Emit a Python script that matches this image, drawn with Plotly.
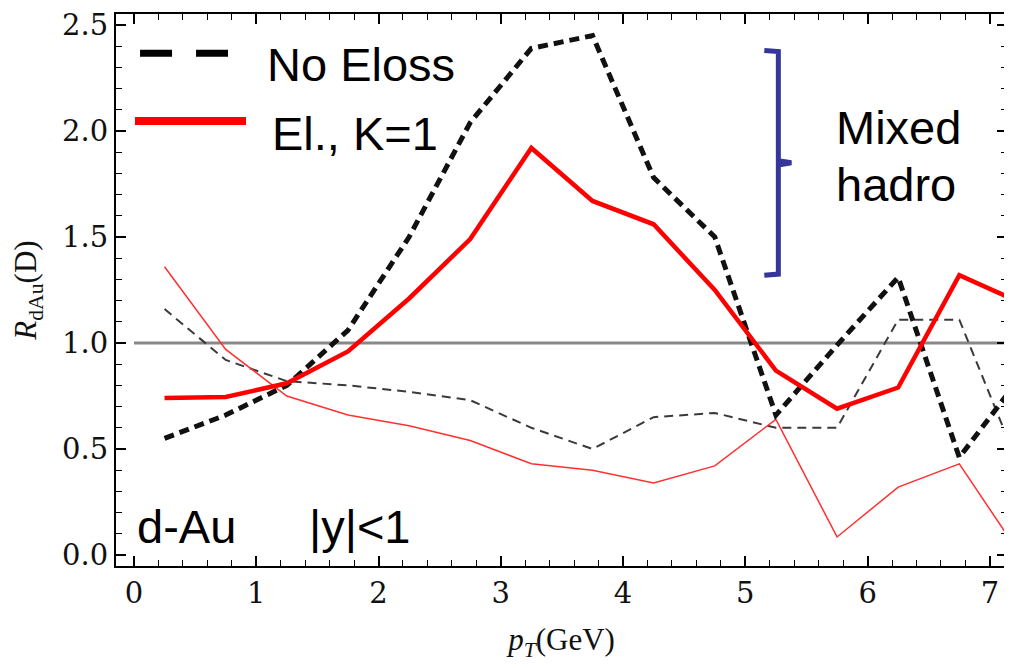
import plotly.graph_objects as go

# ---- data ----
pt = [0.25, 0.75, 1.25, 1.75, 2.25, 2.75, 3.25, 3.75, 4.25, 4.75, 5.25, 5.75, 6.25, 6.75, 7.25]
no_eloss_thick = [0.55, 0.66, 0.80, 1.06, 1.50, 2.04, 2.39, 2.45, 1.78, 1.50, 0.66, 0.99, 1.31, 0.46, 0.84]
eloss_thick = [0.74, 0.745, 0.81, 0.96, 1.21, 1.49, 1.92, 1.67, 1.56, 1.25, 0.87, 0.69, 0.79, 1.32, 1.19]
eloss_thin = [1.36, 0.97, 0.75, 0.66, 0.61, 0.54, 0.43, 0.40, 0.34, 0.42, 0.64, 0.085, 0.32, 0.43, 0.0]
no_eloss_thin = [1.16, 0.92, 0.82, 0.80, 0.77, 0.73, 0.60, 0.50, 0.65, 0.67, 0.60, 0.60, 1.11, 1.11, 0.40]
ref_x = [0, 7.25]
ref_y = [1.0, 1.0]

x_ticks = [0, 1, 2, 3, 4, 5, 6, 7]
y_ticks = [0.0, 0.5, 1.0, 1.5, 2.0, 2.5]

fig = go.Figure()
fig.add_trace(go.Scatter(x=ref_x, y=ref_y, mode="lines",
                         line=dict(color="#888888", width=3), showlegend=False))
fig.add_trace(go.Scatter(x=pt, y=no_eloss_thin, mode="lines",
                         line=dict(color="#3a3a3a", width=2, dash="9px,6px"), showlegend=False))
fig.add_trace(go.Scatter(x=pt, y=eloss_thin, mode="lines",
                         line=dict(color="#ff3030", width=1.5), showlegend=False))
fig.add_trace(go.Scatter(x=pt, y=no_eloss_thick, mode="lines",
                         line=dict(color="#111111", width=5, dash="10px,6px"), showlegend=False))
fig.add_trace(go.Scatter(x=pt, y=eloss_thick, mode="lines",
                         line=dict(color="#ff0000", width=4.5), showlegend=False))

serif = "Liberation Serif"
tickserif = "DejaVu Serif"
sans = "Liberation Sans"

axis_common = dict(showline=True, linecolor="black", linewidth=2, mirror="ticks",
                   ticks="inside", ticklen=10, tickwidth=1.5, tickcolor="black",
                   showgrid=False, zeroline=False, automargin=False,
                   tickfont=dict(family=tickserif, size=29, color="#111111"))

fig.update_xaxes(range=[-0.147, 7.14], tickvals=x_ticks,
                 minor=dict(dtick=0.2, ticks="inside", ticklen=6, tickwidth=1.2, tickcolor="black"),
                 title=dict(text="<i>p<sub>T</sub></i>(GeV)", font=dict(family=serif, size=31, color="#111111"),
                            standoff=20),
                 **axis_common)
fig.update_yaxes(range=[-0.052, 2.552], tickvals=y_ticks, tickformat=".1f",
                 minor=dict(dtick=0.1, ticks="inside", ticklen=6, tickwidth=1.2, tickcolor="black"),
                 title=dict(text="<i>R</i><sub>dAu</sub>(D)", font=dict(family=serif, size=31, color="#111111"),
                            standoff=16),
                 **axis_common)

# legend swatches (paper coords)
fig.add_shape(type="line", xref="paper", yref="paper", x0=0.027, x1=0.1257, y0=0.929, y1=0.929,
              line=dict(color="black", width=7, dash="32px,24px"))
fig.add_shape(type="line", xref="paper", yref="paper", x0=0.0213, x1=0.1459, y0=0.806, y1=0.806,
              line=dict(color="#ff0000", width=8))

# bracket
blue = "#35359a"
fig.add_shape(type="path", xref="x", yref="y",
              path="M 5.155 2.38 L 5.27 2.375 L 5.27 1.86 L 5.376 1.85 L 5.27 1.84 L 5.27 1.325 L 5.155 1.32",
              line=dict(color=blue, width=5))

def txt(x, y, s, xref="paper", yref="paper"):
    fig.add_annotation(x=x, y=y, xref=xref, yref=yref, text=s, showarrow=False,
                       xanchor="left", yanchor="middle",
                       font=dict(family=sans, size=47, color="black"))

txt(0.167, 0.908, "No Eloss")
txt(0.173, 0.783, "El., K=1")
txt(0.0213, 0.071, "d-Au")
txt(0.214, 0.071, "|y|<1")
txt(0.806, 0.795, "Mixed")
txt(0.806, 0.692, "hadro")

# page body has an 8px default margin; compensate so the plot frame lands where the reference has it
fig.update_layout(width=1004, height=660, plot_bgcolor="white", paper_bgcolor="white",
                  margin=dict(l=108, r=5, t=6, b=102), showlegend=False)

fig.write_html("out.html")
